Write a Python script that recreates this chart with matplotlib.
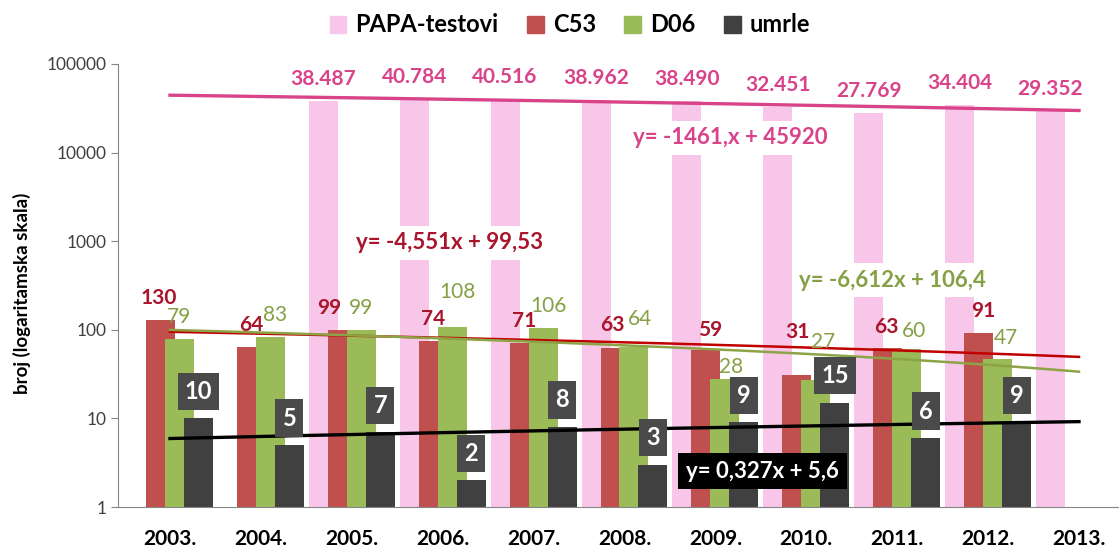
import matplotlib.pyplot as plt
from matplotlib.patches import Patch
import numpy as np

plt.rcParams['font.family'] = ['Lato', 'DejaVu Sans']

years = ['2003.', '2004.', '2005.', '2006.', '2007.', '2008.',
         '2009.', '2010.', '2011.', '2012.', '2013.']
papa = [None, None, 38487, 40784, 40516, 38962, 38490, 32451, 27769, 34404, 29352]
c53 = [130, 64, 99, 74, 71, 63, 59, 31, 63, 91, None]
d06 = [79, 83, 99, 108, 106, 64, 28, 27, 60, 47, None]
umrle = [10, 5, 7, 2, 8, 3, 9, 15, 6, 9, None]

# linear trends, x = 1..11
trend_papa = (-1461, 45920)
trend_c53 = (-4.551, 99.53)
trend_d06 = (-6.612, 106.4)
trend_umrle = (0.327, 5.6)

col_papa, col_c53, col_d06, col_umrle = '#F8C6E8', '#C0504D', '#9BBB59', '#404040'
txt_papa, txt_c53, txt_d06 = '#D9438A', '#A8152C', '#86A045'

fig = plt.figure(figsize=(11.19, 5.51), dpi=100)
ax = fig.add_axes([118 / 1119, 44 / 551, 1001 / 1119, 443 / 551])

x = np.arange(len(years))
step, width = 0.209, 0.319
series = [(papa, col_papa), (c53, col_c53), (d06, col_d06), (umrle, col_umrle)]
for k, (vals, col) in enumerate(series):
    idx = [i for i, v in enumerate(vals) if v is not None]
    h = [vals[i] for i in idx]
    ax.bar(x[idx] + (k - 1.5) * step, h, width=width, color=col, zorder=2)

# trend lines
xt = np.linspace(0, len(years) - 1, 200)
for (a, b), col, lw in [(trend_papa, '#D9438A', 2.4), (trend_c53, '#C00000', 1.8),
                        (trend_d06, '#8CA346', 1.8), (trend_umrle, '#000000', 2.4)]:
    ax.plot(xt, a * (xt + 1) + b, color=col, lw=lw, zorder=3)

def put(xpos, val, text, color, dx, dy, weight='bold', size=15, box=None):
    ax.annotate(text, (xpos, val), xytext=(dx, dy), textcoords='offset pixels',
                ha='center', va='center', color=color, fontsize=size,
                fontweight=weight, bbox=box, zorder=5)

# value labels (pixel offsets from the bar top)
c53_dx = [-2, 0, -13, 0, 0, -3, 4, 1, -1, 5]
c53_dy = [22, 22, 22, 22, 22, 23, 20, 43, 21, 22]
d06_dx = [0, 5, 0, 5, 5, 6, 6, 7, 7, 8]
d06_dy = [22, 22, 22, 35, 22, 28, 12, 38, 18, 21]
for i, v in enumerate(papa):
    if v is not None:
        put(x[i] - 1.5 * step, v, f'{v:,}'.replace(',', '.'), txt_papa, 0, 22, size=15)
for i, v in enumerate(c53):
    if v is not None:
        put(x[i] - 0.5 * step, v, str(v), txt_c53, c53_dx[i], c53_dy[i])
for i, v in enumerate(d06):
    if v is not None:
        put(x[i] + 0.5 * step, v, str(v), txt_d06, d06_dx[i], d06_dy[i], weight='normal')
for i, v in enumerate(umrle):
    if v is not None:
        put(x[i] + 1.5 * step, v, str(v), 'white', 0, 27, size=17,
            box=dict(boxstyle='square,pad=0.3', fc='#4A4A4A', ec='none'))

# trend equations
eq = dict(ha='center', va='center', fontsize=16, fontweight='bold',
          transform=ax.transAxes, zorder=6)
white = dict(boxstyle='square,pad=0.3', fc='white', ec='none')
ax.text(0.612, 0.833, 'y= -1461,x + 45920', color=txt_papa, bbox=white, **eq)
ax.text(0.331, 0.596, 'y= -4,551x + 99,53', color=txt_c53, bbox=white, **eq)
ax.text(0.774, 0.512, 'y= -6,612x + 106,4', color=txt_d06, bbox=white, **eq)
ax.text(0.644, 0.081, 'y= 0,327x + 5,6', color='white',
        bbox=dict(boxstyle='square,pad=0.35', fc='black', ec='none'), **eq)

ax.set_yscale('log')
ax.set_ylim(1, 100000)
ax.set_xlim(-0.572, 10.44)
ax.set_yticks([1, 10, 100, 1000, 10000, 100000])
ax.set_yticklabels(['1', '10', '100', '1000', '10000', '100000'])
ax.minorticks_off()
ax.set_xticks(x)
ax.set_xticklabels(years, fontweight='bold', fontsize=15)
ax.tick_params(axis='x', length=0, pad=16)
ax.tick_params(axis='y', length=5, color='#868686', labelcolor='#404040',
               labelsize=12.5, pad=3)
for s in ['top', 'right']:
    ax.spines[s].set_visible(False)
for s in ['left', 'bottom']:
    ax.spines[s].set_color('#868686')

fig.text(22 / 1119, 1 - 293 / 551, 'broj (logaritamska skala)', rotation=90,
         ha='center', va='center', fontsize=13.5, fontweight='bold')

handles = [Patch(color=c) for c in (col_papa, col_c53, col_d06, col_umrle)]
fig.legend(handles, ['PAPA-testovi', 'C53', 'D06', 'umrle'], loc='center',
           bbox_to_anchor=(570 / 1119, 1 - 25 / 551), ncol=4, frameon=False,
           prop=dict(weight='bold', size=17), handlelength=0.7, handleheight=0.7,
           handletextpad=0.4, columnspacing=1.2)

fig.savefig('out.png', dpi=100)
